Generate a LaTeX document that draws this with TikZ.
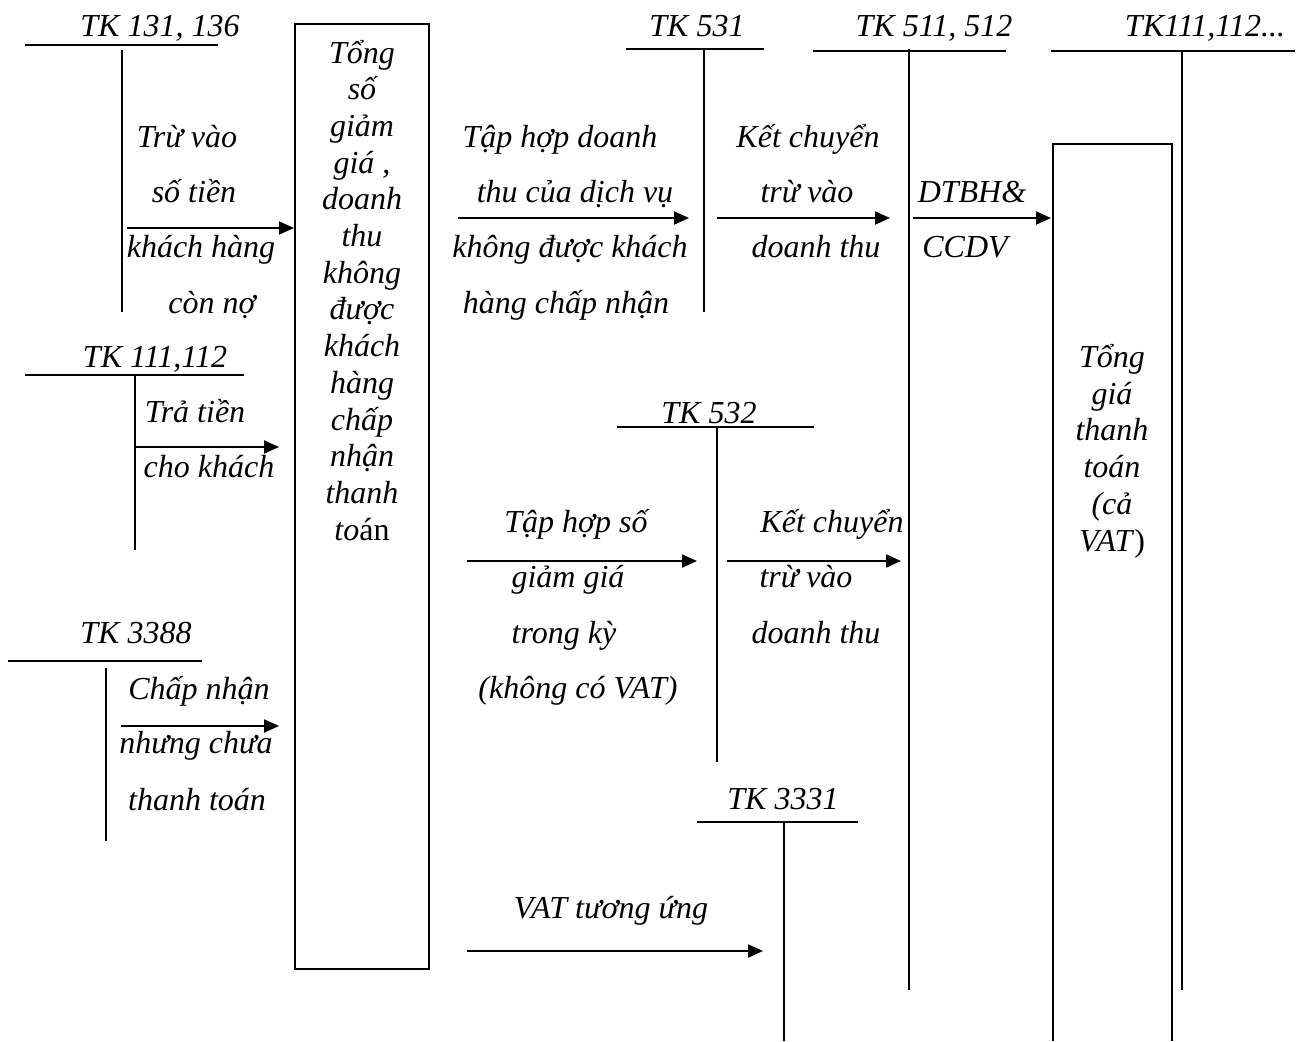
\documentclass[tikz,border=0pt]{standalone}
\usepackage{fontspec}
\setmainfont{Liberation Serif}
\usetikzlibrary{arrows.meta}
\tikzset{
  lbl/.style={anchor=base, inner sep=0pt, font=\fontsize{16pt}{18pt}\selectfont\itshape},
  acc/.style={line width=1pt},
  arr/.style={line width=1pt, -{Triangle[length=7.5pt,width=6.5pt]}},
  boxst/.style={draw, line width=1pt, inner sep=0pt}
}
\begin{document}
\begin{tikzpicture}[x=0.5pt,y=-0.5pt]
\useasboundingbox (0,0) rectangle (1298,1041);

% ---------- T accounts ----------
% TK 131, 136
\node[lbl] (k1) at (160,36) {TK 131, 136};
\coordinate (k1h1) at (25,45); \coordinate (k1h2) at (218,45);
\coordinate (k1v1) at (122,50); \coordinate (k1v2) at (122,312);
\draw[acc] (k1h1) -- (k1h2); \draw[acc] (k1v1) -- (k1v2);
% TK 531
\node[lbl] (k2) at (697,36) {TK 531};
\coordinate (k2h1) at (626,49); \coordinate (k2h2) at (764,49);
\coordinate (k2v1) at (704,49); \coordinate (k2v2) at (704,312);
\draw[acc] (k2h1) -- (k2h2); \draw[acc] (k2v1) -- (k2v2);
% TK 511, 512
\node[lbl] (k3) at (934,36) {TK 511, 512};
\coordinate (k3h1) at (813,51); \coordinate (k3h2) at (1006,51);
\coordinate (k3v1) at (909,49); \coordinate (k3v2) at (909,990);
\draw[acc] (k3h1) -- (k3h2); \draw[acc] (k3v1) -- (k3v2);
% TK111,112...
\node[lbl] (k4) at (1205,36) {TK111,112...};
\coordinate (k4h1) at (1051,51); \coordinate (k4h2) at (1295,51);
\coordinate (k4v1) at (1182,51); \coordinate (k4v2) at (1182,990);
\draw[acc] (k4h1) -- (k4h2); \draw[acc] (k4v1) -- (k4v2);
% TK 111,112
\node[lbl] (k5) at (155,367) {TK 111,112};
\coordinate (k5h1) at (25,375); \coordinate (k5h2) at (244,375);
\coordinate (k5v1) at (135,375); \coordinate (k5v2) at (135,550);
\draw[acc] (k5h1) -- (k5h2); \draw[acc] (k5v1) -- (k5v2);
% TK 3388
\node[lbl] (k6) at (136,643) {TK 3388};
\coordinate (k6h1) at (8,661); \coordinate (k6h2) at (202,661);
\coordinate (k6v1) at (106,668); \coordinate (k6v2) at (106,841);
\draw[acc] (k6h1) -- (k6h2); \draw[acc] (k6v1) -- (k6v2);
% TK 532
\node[lbl] (k7) at (709,423) {TK 532};
\coordinate (k7h1) at (617,427); \coordinate (k7h2) at (814,427);
\coordinate (k7v1) at (717,427); \coordinate (k7v2) at (717,762);
\draw[acc] (k7h1) -- (k7h2); \draw[acc] (k7v1) -- (k7v2);
% TK 3331
\node[lbl] (k8) at (783,809) {TK 3331};
\coordinate (k8h1) at (697,822); \coordinate (k8h2) at (858,822);
\coordinate (k8v1) at (784,822); \coordinate (k8v2) at (784,1041);
\draw[acc] (k8h1) -- (k8h2); \draw[acc] (k8v1) -- (k8v2);

% ---------- boxes ----------
\node[boxst, minimum width=67pt, minimum height=472.5pt] (box1) at (362,496.5) {};
\foreach \t [count=\i from 0] in {Tổng, số, giảm, {giá ,}, doanh, thu, không, được, khách, hàng, chấp, nhận, thanh, to\textup{án}}
  \node[lbl] (b\i) at (362,{63+36.7*\i}) {\t};

\coordinate (r1) at (1053,1041); \coordinate (r2) at (1053,144);
\coordinate (r3) at (1172,144); \coordinate (r4) at (1172,1041);
\draw[acc] (r1) -- (r2) -- (r3) -- (r4);
\node[lbl] (c1) at (1112,367) {Tổng};
\node[lbl] (c2) at (1112,404) {giá};
\node[lbl] (c3) at (1112,440) {thanh};
\node[lbl] (c4) at (1112,477) {toán};
\node[lbl] (c5) at (1112,514) {(cả};
\node[lbl] (c6) at (1112,551) {VAT\textup{)}};

% ---------- arrows ----------
\coordinate (a1s) at (127,228); \coordinate (a1e) at (294,228);
\coordinate (a2s) at (135,447); \coordinate (a2e) at (279,447);
\coordinate (a3s) at (121,726); \coordinate (a3e) at (279,726);
\coordinate (a4s) at (458,218); \coordinate (a4e) at (689,218);
\coordinate (a5s) at (717,218); \coordinate (a5e) at (890,218);
\coordinate (a6s) at (913,218); \coordinate (a6e) at (1051,218);
\coordinate (a7s) at (467,561); \coordinate (a7e) at (697,561);
\coordinate (a8s) at (727,561); \coordinate (a8e) at (901,561);
\coordinate (a9s) at (467,951); \coordinate (a9e) at (763,951);
\foreach \i in {1,...,9} \draw[arr] (a\i s) -- (a\i e);

% ---------- labels ----------
\node[lbl] (t11) at (187,147) {Trừ vào};
\node[lbl] (t12) at (194,202) {số tiền};
\node[lbl] (t13) at (201,257) {khách hàng};
\node[lbl] (t14) at (212,313) {còn nợ};

\node[lbl] (t21) at (195,422) {Trả tiền};
\node[lbl] (t22) at (209,477) {cho khách};

\node[lbl] (t31) at (199,699) {Chấp nhận};
\node[lbl] (t32) at (196,753) {nhưng chưa};
\node[lbl] (t33) at (197,810) {thanh toán};

\node[lbl] (t41) at (560,147) {Tập hợp doanh};
\node[lbl] (t42) at (575,202) {thu của dịch vụ};
\node[lbl] (t43) at (570,257) {không được khách};
\node[lbl] (t44) at (566,313) {hàng chấp nhận};

\node[lbl] (t51) at (808,147) {Kết chuyển};
\node[lbl] (t52) at (807,202) {trừ vào};
\node[lbl] (t53) at (816,257) {doanh thu};

\node[lbl] (t61) at (972,202) {DTBH\&};
\node[lbl] (t62) at (965,257) {CCDV};

\node[lbl] (t71) at (576,532) {Tập hợp số};
\node[lbl] (t72) at (568,587) {giảm giá};
\node[lbl] (t73) at (564,643) {trong kỳ};
\node[lbl] (t74) at (578,698) {(không có VAT)};

\node[lbl] (t81) at (832,532) {Kết chuyển};
\node[lbl] (t82) at (806,587) {trừ vào};
\node[lbl] (t83) at (816,643) {doanh thu};

\node[lbl] (t91) at (611,918) {VAT tương ứng};
\end{tikzpicture}
\end{document}
